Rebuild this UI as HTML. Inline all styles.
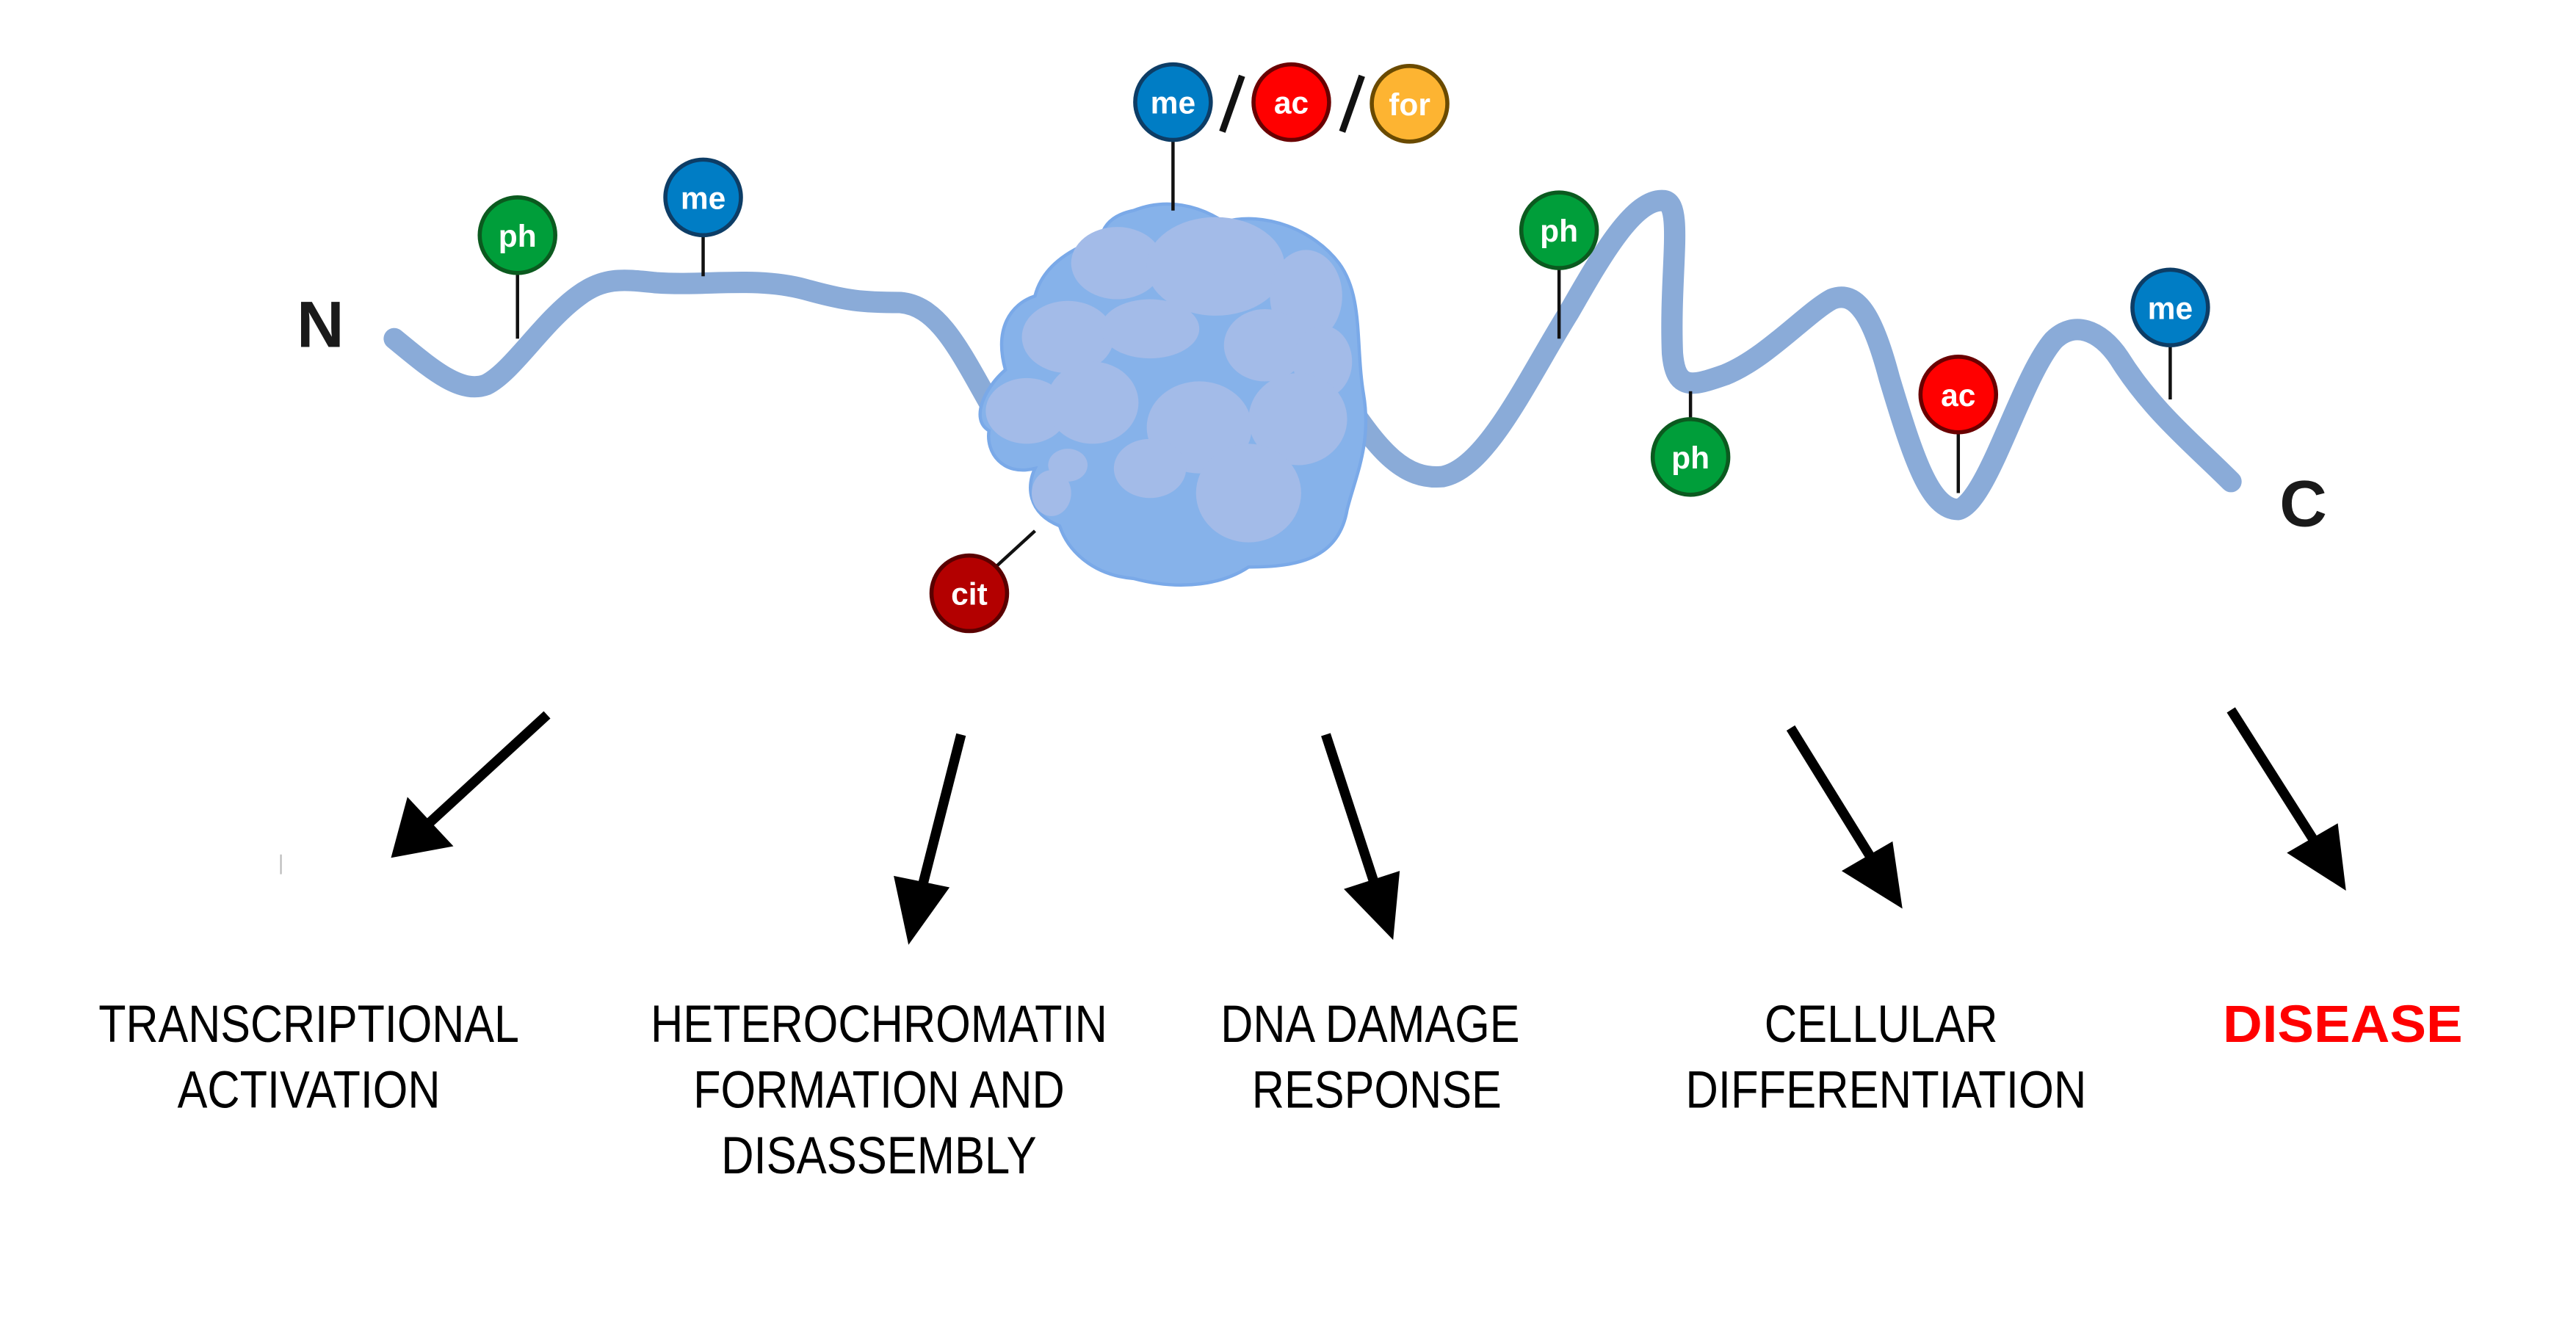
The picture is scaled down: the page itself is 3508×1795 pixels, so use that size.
<!DOCTYPE html>
<html><head><meta charset="utf-8"><style>html,body{margin:0;padding:0;background:#fff}svg{display:block}</style></head>
<body>
<svg width="3508" height="1795" viewBox="0 0 1568 802" xmlns="http://www.w3.org/2000/svg" font-family="Liberation Sans, sans-serif">
<rect width="1568" height="802" fill="#fff"/>
<path d="M240,206 C262,224 280,240 296,234 C312,226 330,196 352,180 C368,168 380,170 400,172 C430,174 460,168 490,176 C515,183 525,184 548,184 C572,186 585,215 605,250" fill="none" stroke="#8aabd8" stroke-width="13" stroke-linecap="round"/>
<path d="M820,245 C840,275 855,292 878,290 C905,285 930,230 955,190 C975,155 995,120 1013,122 C1025,124 1016,165 1018,215 C1020,238 1030,235 1050,228 C1075,218 1100,190 1115,182 C1130,176 1140,192 1150,230 C1165,280 1175,310 1192,310 C1210,305 1230,230 1250,207 C1262,195 1278,200 1290,218 C1310,250 1335,270 1358,293" fill="none" stroke="#8aabd8" stroke-width="13" stroke-linecap="round" stroke-linejoin="round"/>
<g stroke="#7aa9e8" stroke-width="2">
<path d="M690,128 C710,120 730,125 745,135 C770,128 800,140 815,160 C830,180 825,210 830,240 C835,270 825,290 820,310 C815,340 790,345 760,345 C745,355 720,360 690,352 C665,350 650,335 645,320 C625,312 625,295 630,285 C610,290 600,275 602,262 C590,255 600,235 612,225 C605,200 615,185 630,180 C635,160 655,150 670,145 C672,135 680,130 690,128 Z" fill="#86b2ea"/>
</g>
<g fill="#a3bbe8">
<ellipse cx="680" cy="160" rx="28" ry="22"/>
<ellipse cx="740" cy="162" rx="42" ry="30"/>
<ellipse cx="795" cy="180" rx="22" ry="28"/>
<ellipse cx="650" cy="205" rx="28" ry="22"/>
<ellipse cx="700" cy="200" rx="30" ry="18"/>
<ellipse cx="770" cy="210" rx="25" ry="22"/>
<ellipse cx="805" cy="220" rx="18" ry="22"/>
<ellipse cx="625" cy="250" rx="25" ry="20"/>
<ellipse cx="665" cy="245" rx="28" ry="25"/>
<ellipse cx="730" cy="260" rx="32" ry="28"/>
<ellipse cx="790" cy="255" rx="30" ry="28"/>
<ellipse cx="650" cy="283" rx="12" ry="10"/>
<ellipse cx="760" cy="300" rx="32" ry="30"/>
<ellipse cx="700" cy="285" rx="22" ry="18"/>
<ellipse cx="640" cy="300" rx="12" ry="14"/>
</g>
<g stroke="#111" stroke-width="2">
<line x1="315" y1="165" x2="315" y2="206"/>
<line x1="428" y1="142" x2="428" y2="168"/>
<line x1="714" y1="86" x2="714" y2="128"/>
<line x1="949" y1="162" x2="949" y2="206"/>
<line x1="1029" y1="256" x2="1029" y2="238"/>
<line x1="1192" y1="262" x2="1192" y2="300"/>
<line x1="1321" y1="209" x2="1321" y2="243"/>
<line x1="630" y1="323" x2="606" y2="345"/>
</g>
<g stroke-width="2.5" font-size="19" font-weight="bold" fill="#fff" text-anchor="middle">
<circle cx="315" cy="143" r="23" fill="#009e3a" stroke="#0b5a1f"/><text x="315" y="150" fill="#fff">ph</text>
<circle cx="428" cy="120" r="23" fill="#007dc5" stroke="#0d3d66"/><text x="428" y="127" fill="#fff">me</text>
<circle cx="714" cy="62" r="23" fill="#007dc5" stroke="#0d3d66"/><text x="714" y="69" fill="#fff">me</text>
<circle cx="786" cy="62" r="23" fill="#ff0000" stroke="#6a0000"/><text x="786" y="69" fill="#fff">ac</text>
<circle cx="858" cy="63" r="23" fill="#fdb432" stroke="#6a4a00"/><text x="858" y="70" fill="#fff">for</text>
<circle cx="949" cy="140" r="23" fill="#009e3a" stroke="#0b5a1f"/><text x="949" y="147" fill="#fff">ph</text>
<circle cx="1029" cy="278" r="23" fill="#009e3a" stroke="#0b5a1f"/><text x="1029" y="285" fill="#fff">ph</text>
<circle cx="1192" cy="240" r="23" fill="#ff0000" stroke="#6a0000"/><text x="1192" y="247" fill="#fff">ac</text>
<circle cx="1321" cy="187" r="23" fill="#007dc5" stroke="#0d3d66"/><text x="1321" y="194" fill="#fff">me</text>
<circle cx="590" cy="361" r="23" fill="#b30000" stroke="#5a0000"/><text x="590" y="368" fill="#fff">cit</text>
</g>
<g stroke="#111" stroke-width="4"><line x1="744" y1="80" x2="756" y2="46"/><line x1="817" y1="80" x2="829" y2="46"/></g>
<text x="195" y="211" font-size="40" font-weight="bold" text-anchor="middle" fill="#1a1a1a">N</text>
<text x="1402" y="320" font-size="40" font-weight="bold" text-anchor="middle" fill="#1a1a1a">C</text>
<g stroke="#000" stroke-width="6">
<line x1="333" y1="435" x2="260" y2="502"/>
<line x1="585" y1="447" x2="560" y2="545"/>
<line x1="807" y1="447" x2="838" y2="542"/>
<line x1="1090" y1="443" x2="1142" y2="527"/>
<line x1="1358" y1="432" x2="1412" y2="517"/>
</g>
<g fill="#000">
<polygon points="238,522 248,485 276,515"/>
<polygon points="553,575 544,533 578,540"/>
<polygon points="848,572 818,541 852,530"/>
<polygon points="1158,553 1121,530 1152,512"/>
<polygon points="1428,542 1392,519 1423,501"/>
</g>
<line x1="171" y1="520" x2="171" y2="532" stroke="#bbb" stroke-width="1"/>
<g font-size="32" text-anchor="middle" fill="#000">
<text x="188" y="634" textLength="256" lengthAdjust="spacingAndGlyphs">TRANSCRIPTIONAL</text>
<text x="188" y="674" textLength="160" lengthAdjust="spacingAndGlyphs">ACTIVATION</text>
<text x="535" y="634" textLength="278" lengthAdjust="spacingAndGlyphs">HETEROCHROMATIN</text>
<text x="535" y="674" textLength="226" lengthAdjust="spacingAndGlyphs">FORMATION AND</text>
<text x="535" y="714" textLength="192" lengthAdjust="spacingAndGlyphs">DISASSEMBLY</text>
<text x="834" y="634" textLength="182" lengthAdjust="spacingAndGlyphs">DNA DAMAGE</text>
<text x="838" y="674" textLength="152" lengthAdjust="spacingAndGlyphs">RESPONSE</text>
<text x="1145" y="634" textLength="142" lengthAdjust="spacingAndGlyphs">CELLULAR</text>
<text x="1148" y="674" textLength="244" lengthAdjust="spacingAndGlyphs">DIFFERENTIATION</text>
<text x="1426" y="634" font-weight="bold" fill="#ff0000" textLength="146" lengthAdjust="spacingAndGlyphs">DISEASE</text>
</g>
</svg>
</body></html>
